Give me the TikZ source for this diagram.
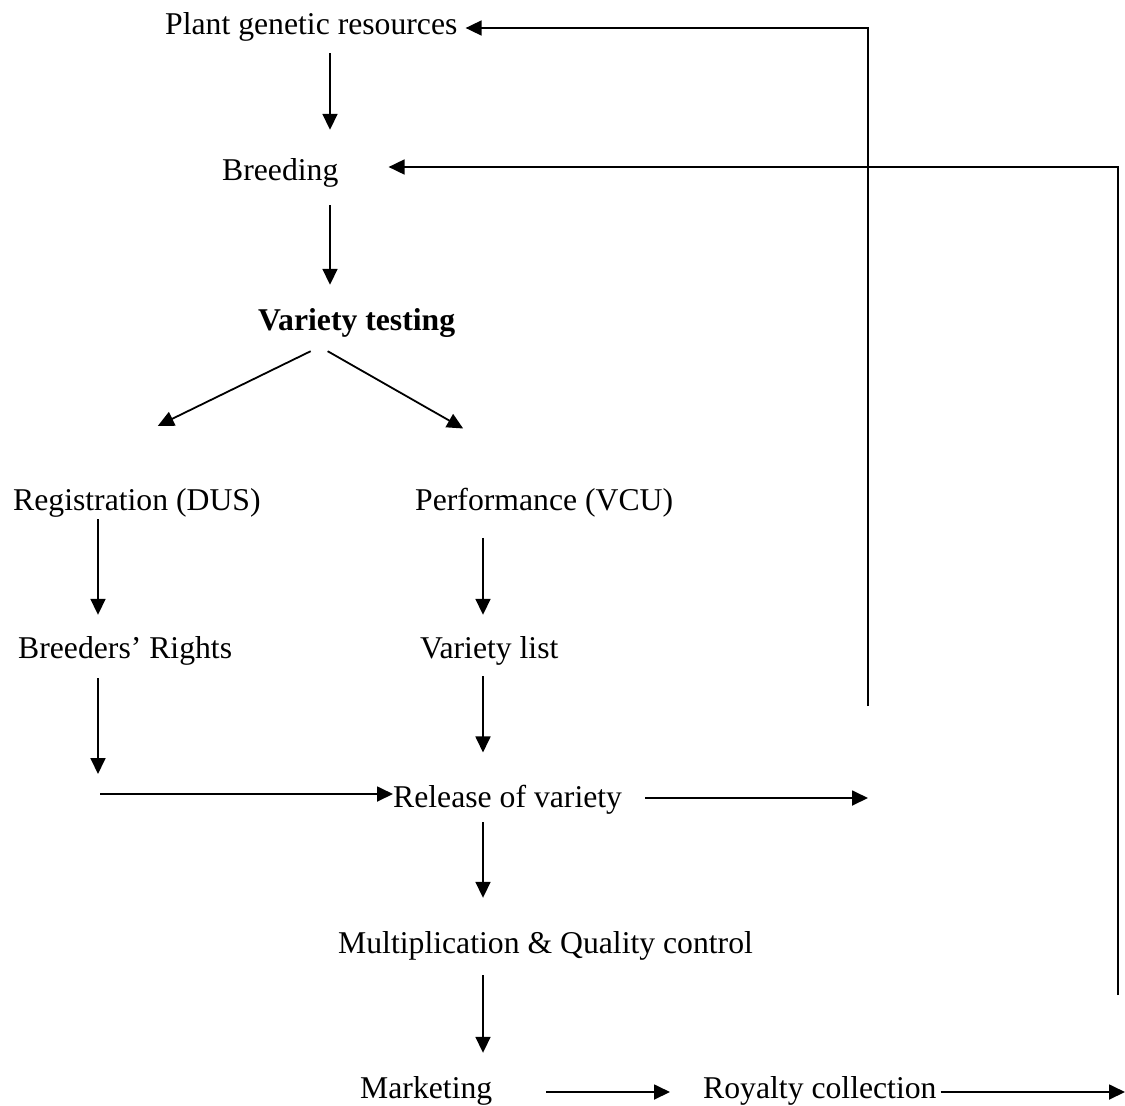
\documentclass[tikz,border=0pt]{standalone}
\usepackage{fontspec}
\setmainfont{Liberation Serif}
\usetikzlibrary{arrows.meta,calc}

\begin{document}
\begin{tikzpicture}[x=1pt,y=-1pt,>={Triangle[length=16pt,width=15pt]},
  lbl/.style={inner sep=0pt,anchor=base west,font=\fontsize{31.7}{38}\selectfont},
  arr/.style={->,line width=1.8pt},
  ln/.style={line width=1.8pt}]
\useasboundingbox (0,0) rectangle (1125,1106);
% columns and free ends
\coordinate (c1) at (330,0);
\coordinate (c2) at (98,0);
\coordinate (c3) at (483,0);
\coordinate (corner) at (98,794);
\coordinate (relend) at (868,798);
\coordinate (fb1) at (868,706);
\coordinate (fb1top) at (868,28);
\coordinate (fb2) at (1118,995);
\coordinate (fb2top) at (1118,167);
\coordinate (royend) at (1125,1092);
% labels
\node[lbl] (plant) at (165,34) {Plant genetic resources};
\node[lbl] (breed) at (222,180) {Breeding};
\node[lbl,font=\fontsize{31.7}{38}\selectfont\bfseries] (vtest) at (258,330) {Variety testing};
\node[lbl] (reg) at (13,510) {Registration (DUS)};
\node[lbl] (perf) at (415,510) {Performance (VCU)};
\node[lbl] (brights) at (18,658) {Breeders’ Rights};
\node[lbl] (vlist) at (420,658) {Variety list};
\node[lbl] (release) at (393,807) {Release of variety};
\node[lbl] (mult) at (338,953) {Multiplication \& Quality control};
\node[lbl] (market) at (360,1098) {Marketing};
\node[lbl] (royalty) at (703,1098) {Royalty collection};
% main chain
\draw[arr,shorten <=12pt,shorten >=28pt] (plant.south -| c1) -- (breed.north -| c1);
\draw[arr,shorten <=18pt,shorten >=23pt] (breed.south -| c1) -- (vtest.north -| c1);
\draw[arr] ([shift={(-46,14)}]vtest.south) -- ([shift={(21,-62)}]reg.north);
\draw[arr] ([shift={(-29,14)}]vtest.south) -- ([shift={(-81,-59)}]perf.north);
\draw[arr,shorten <=2pt,shorten >=21pt] (reg.south -| c2) -- (brights.north -| c2);
\draw[arr,shorten <=21pt,shorten >=21pt] (perf.south -| c3) -- (vlist.north -| c3);
\draw[arr,shorten <=13pt,shorten >=20pt] (brights.south -| c2) -- (corner);
\draw[arr,shorten <=2pt] (corner) -- (release.west |- corner);
\draw[arr,shorten <=11pt,shorten >=32pt] (vlist.south -| c3) -- (release.north -| c3);
\draw[arr,shorten <=23pt] (release.east |- relend) -- (relend);
\draw[arr,shorten <=8pt,shorten >=33pt] (release.south -| c3) -- (mult.north -| c3);
\draw[arr,shorten <=15pt,shorten >=23pt] (mult.south -| c3) -- (market.north -| c3);
\draw[arr,shorten <=54pt,shorten >=33pt] (market.east |- royend) -- (royalty.west |- royend);
\draw[arr,shorten <=4pt] (royalty.east |- royend) -- (royend);
% feedback lines
\draw[arr,shorten >=8pt] (fb1) -- (fb1top) -- (plant.east |- fb1top);
\draw[arr,shorten >=50pt] (fb2) -- (fb2top) -- (breed.east |- fb2top);
\end{tikzpicture}
\end{document}
